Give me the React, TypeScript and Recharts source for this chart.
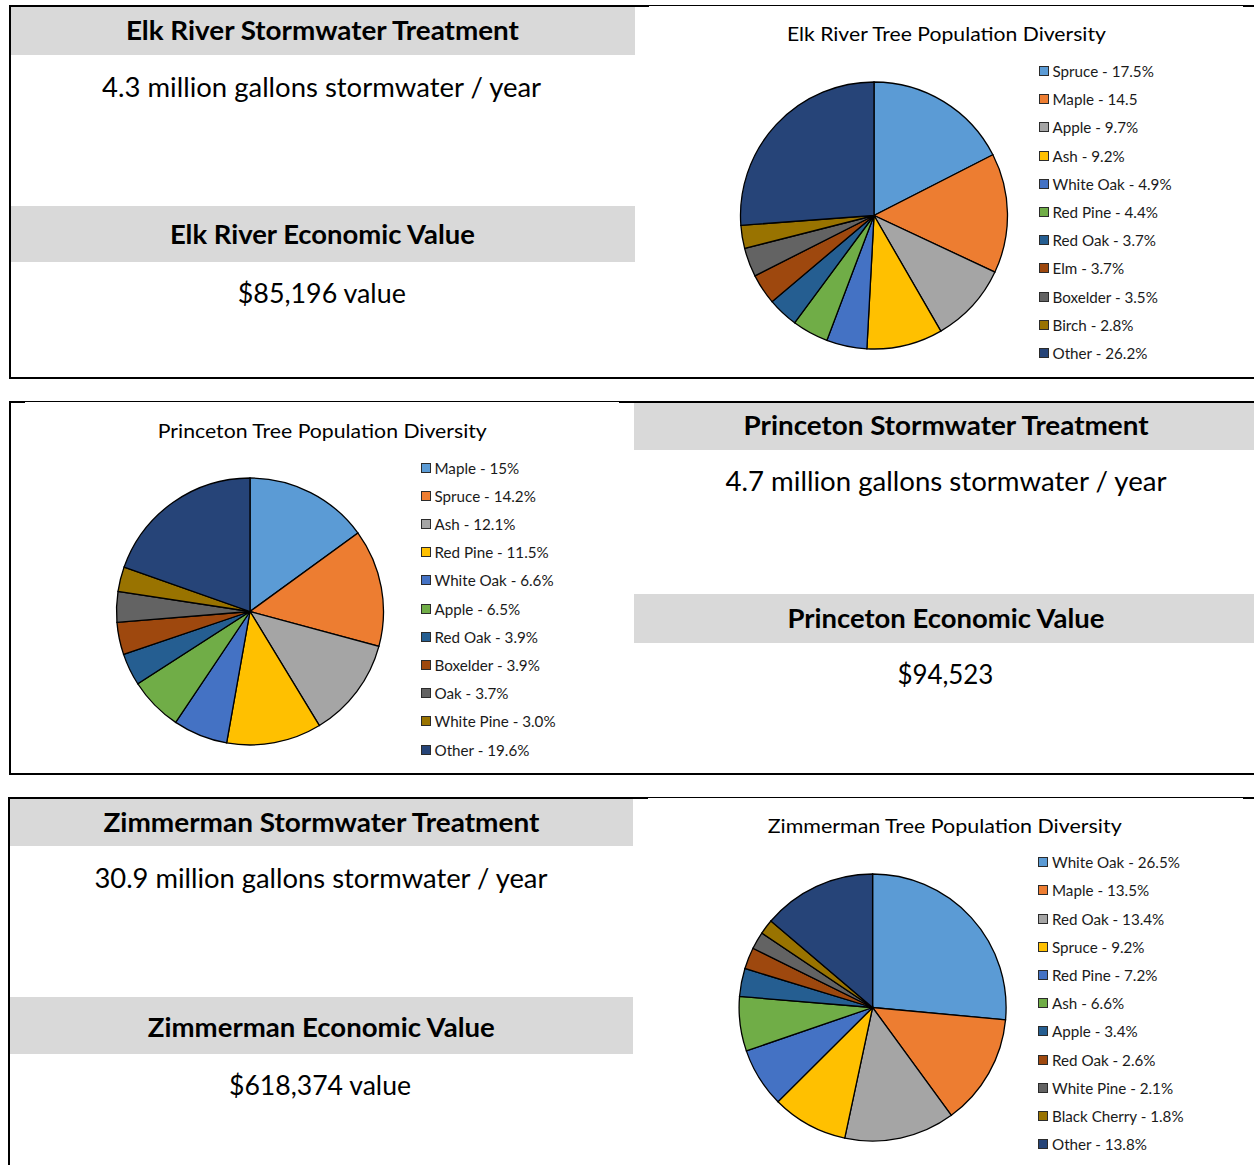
import React from 'react';
import { PieChart, Pie, Cell, Legend } from 'recharts';

// Excel Office theme palette
const COLORS = ['#5B9BD5', '#ED7D31', '#A5A5A5', '#FFC000', '#4472C4', '#70AD47', '#255E91', '#9E480E', '#636363', '#997300', '#264478'];

// ---- Elk River ----
const elkNames = ['Spruce', 'Maple', 'Apple', 'Ash', 'White Oak', 'Red Pine', 'Red Oak', 'Elm', 'Boxelder', 'Birch', 'Other'];
const elkValues = [17.5, 14.5, 9.7, 9.2, 4.9, 4.4, 3.7, 3.7, 3.5, 2.8, 26.2];
const elkLabels = ['Spruce - 17.5%', 'Maple - 14.5', 'Apple - 9.7%', 'Ash - 9.2%', 'White Oak - 4.9%', 'Red Pine - 4.4%', 'Red Oak - 3.7%', 'Elm - 3.7%', 'Boxelder - 3.5%', 'Birch - 2.8%', 'Other - 26.2%'];

// ---- Princeton ----
const prNames = ['Maple', 'Spruce', 'Ash', 'Red Pine', 'White Oak', 'Apple', 'Red Oak', 'Boxelder', 'Oak', 'White Pine', 'Other'];
const prValues = [15, 14.2, 12.1, 11.5, 6.6, 6.5, 3.9, 3.9, 3.7, 3.0, 19.6];
const prLabels = ['Maple - 15%', 'Spruce - 14.2%', 'Ash - 12.1%', 'Red Pine - 11.5%', 'White Oak - 6.6%', 'Apple - 6.5%', 'Red Oak - 3.9%', 'Boxelder - 3.9%', 'Oak - 3.7%', 'White Pine - 3.0%', 'Other - 19.6%'];

// ---- Zimmerman ----
const zmNames = ['White Oak', 'Maple', 'Red Oak', 'Spruce', 'Red Pine', 'Ash', 'Apple', 'Red Oak', 'White Pine', 'Black Cherry', 'Other'];
const zmValues = [26.5, 13.5, 13.4, 9.2, 7.2, 6.6, 3.4, 2.6, 2.1, 1.8, 13.8];
const zmLabels = ['White Oak - 26.5%', 'Maple - 13.5%', 'Red Oak - 13.4%', 'Spruce - 9.2%', 'Red Pine - 7.2%', 'Ash - 6.6%', 'Apple - 3.4%', 'Red Oak - 2.6%', 'White Pine - 2.1%', 'Black Cherry - 1.8%', 'Other - 13.8%'];

// ---- Text blocks ----
const elkTexts = ['Elk River Stormwater Treatment', '4.3 million gallons stormwater / year', 'Elk River Economic Value', '$85,196 value'];
const prTexts = ['Princeton Stormwater Treatment', '4.7 million gallons stormwater / year', 'Princeton Economic Value', '$94,523'];
const zmTexts = ['Zimmerman Stormwater Treatment', '30.9 million gallons stormwater / year', 'Zimmerman Economic Value', '$618,374 value'];
const chartTitles = ['Elk River Tree Population Diversity', 'Princeton Tree Population Diversity', 'Zimmerman Tree Population Diversity'];

const FONT = 'Lato, "Open Sans", sans-serif';
const ROW = 28.2;

const makeLegend = (labels: string[]) => (props: any) => {
  const payload: any[] = props && props.payload ? [...props.payload] : [];
  const items: string[] = payload.length
    ? payload
        .map((p: any) => String(p.value))
        .sort((a: string, b: string) => labels.indexOf(a) - labels.indexOf(b))
    : labels;
  return (
    <div style={{ margin: 0, padding: 0 }}>
      {items.map((txt: string, i: number) => {
        const idx = labels.indexOf(txt);
        return (
          <div key={i} style={{ height: ROW, display: 'flex', alignItems: 'center' }}>
            <span style={{ display: 'inline-block', width: 8, height: 8, border: '1px solid #2b2b2b', background: COLORS[idx >= 0 ? idx : i], marginRight: 4, flex: 'none' }} />
            <span style={{ fontFamily: FONT, fontSize: 15.2, lineHeight: '18px', color: '#1a1a1a', whiteSpace: 'nowrap' }}>{txt}</span>
          </div>
        );
      })}
    </div>
  );
};

type PieProps = {
  names: string[]; values: number[]; labels: string[];
  left: number; top: number; width: number; height: number;
  cx: number; cy: number; legendLeft: number; legendTop: number;
};

function DiversityPie(p: PieProps) {
  const data = p.names.map((n, i) => ({ name: n, label: p.labels[i], value: p.values[i] }));
  return (
    <div style={{ position: 'absolute', left: p.left, top: p.top, width: p.width, height: p.height }}>
      <PieChart width={p.width} height={p.height} margin={{ top: 0, right: 0, bottom: 0, left: 0 }}>
        <Pie
          data={data}
          dataKey="value"
          nameKey="label"
          cx={p.cx}
          cy={p.cy}
          innerRadius={0}
          outerRadius={133.5}
          startAngle={90}
          endAngle={-270}
          stroke="#000"
          strokeWidth={1.3}
          isAnimationActive={false}
        >
          {data.map((d, i) => (
            <Cell key={i} fill={COLORS[i]} />
          ))}
        </Pie>
        <Legend
          layout="vertical"
          align="right"
          verticalAlign="top"
          itemSorter={(item: any) => p.labels.indexOf(String(item.value))}
          wrapperStyle={{ left: p.legendLeft, top: p.legendTop, width: 190 }}
          content={makeLegend(p.labels)}
        />
      </PieChart>
    </div>
  );
}

type TxtProps = { x: number; y: number; w: number; size: number; bold?: boolean; children: string };
const T = ({ x, y, w, size, bold, children }: TxtProps) => (
  <text x={x} y={y} textAnchor="middle" fontFamily={FONT} fontSize={size} fontWeight={bold ? 700 : 400} fill="#000" textLength={w} lengthAdjust="spacingAndGlyphs">
    {children}
  </text>
);

export default function App() {
  return (
    <div style={{ position: 'absolute', left: 0, top: 0, width: 1254, height: 1165, background: '#fff', overflow: 'hidden' }}>
      <svg width={1254} height={1165} style={{ position: 'absolute', left: 0, top: 0 }}>
        {/* Panel 1 */}
        <rect x={11} y={7} width={624} height={48} fill="#D9D9D9" />
        <rect x={11} y={206} width={624} height={56} fill="#D9D9D9" />
        <rect x={9} y={5} width={2} height={374} fill="#000" />
        <rect x={9} y={5} width={640} height={2} fill="#000" />
        <rect x={649} y={5} width={594} height={1} fill="#000" />
        <rect x={1243} y={5} width={11} height={2} fill="#000" />
        <rect x={9} y={377} width={1245} height={2} fill="#000" />

        {/* Panel 2 */}
        <rect x={634} y={403} width={620} height={47} fill="#D9D9D9" />
        <rect x={634} y={594} width={620} height={49} fill="#D9D9D9" />
        <rect x={9} y={401} width={16} height={2} fill="#000" />
        <rect x={25} y={401} width={594} height={1} fill="#000" />
        <rect x={619} y={401} width={635} height={2} fill="#000" />
        <rect x={9} y={401} width={2} height={374} fill="#000" />
        <rect x={9} y={773} width={1245} height={2} fill="#000" />

        {/* Panel 3 */}
        <rect x={10} y={799} width={623} height={47} fill="#D9D9D9" />
        <rect x={10} y={997} width={623} height={57} fill="#D9D9D9" />
        <rect x={8} y={797} width={640} height={2} fill="#000" />
        <rect x={648} y={797} width={595} height={1} fill="#000" />
        <rect x={1243} y={797} width={11} height={2} fill="#000" />
        <rect x={8} y={797} width={2} height={368} fill="#000" />

        {/* Elk River texts */}
        <T x={322.4} y={40} w={393} size={26} bold>{elkTexts[0]}</T>
        <T x={321.6} y={96.7} w={439} size={26}>{elkTexts[1]}</T>
        <T x={322.4} y={244.3} w={305} size={26} bold>{elkTexts[2]}</T>
        <T x={321.8} y={303.3} w={168} size={26}>{elkTexts[3]}</T>
        <T x={946.4} y={40.5} w={319} size={20}>{chartTitles[0]}</T>

        {/* Princeton texts */}
        <T x={946} y={435} w={405} size={26} bold>{prTexts[0]}</T>
        <T x={946} y={491} w={441} size={26}>{prTexts[1]}</T>
        <T x={946} y={627.7} w={317} size={26} bold>{prTexts[2]}</T>
        <T x={945.4} y={684} w={96} size={26}>{prTexts[3]}</T>
        <T x={322.3} y={437.7} w={329} size={20}>{chartTitles[1]}</T>

        {/* Zimmerman texts */}
        <T x={321.4} y={831.7} w={436} size={26} bold>{zmTexts[0]}</T>
        <T x={320.9} y={888.3} w={453} size={26}>{zmTexts[1]}</T>
        <T x={321.3} y={1036.7} w={347} size={26} bold>{zmTexts[2]}</T>
        <T x={320} y={1095} w={182} size={26}>{zmTexts[3]}</T>
        <T x={944.7} y={833.3} w={354} size={20}>{chartTitles[2]}</T>
      </svg>

      <DiversityPie names={elkNames} values={elkValues} labels={elkLabels}
        left={648} top={6} width={595} height={371} cx={226} cy={209.5} legendLeft={390.5} legendTop={51} />
      <DiversityPie names={prNames} values={prValues} labels={prLabels}
        left={11} top={403} width={608} height={370} cx={239} cy={208.5} legendLeft={409.5} legendTop={50.6} />
      <DiversityPie names={zmNames} values={zmValues} labels={zmLabels}
        left={648} top={799} width={595} height={366} cx={224.6} cy={208.5} legendLeft={390} legendTop={49.2} />
    </div>
  );
}
